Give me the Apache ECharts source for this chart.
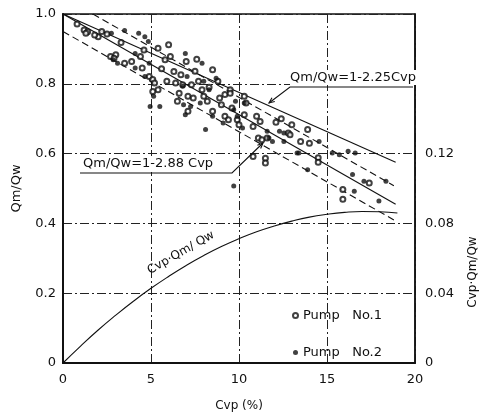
<!DOCTYPE html>
<html>
<head>
<meta charset="utf-8">
<script src="https://cdn.jsdelivr.net/npm/echarts@6/dist/echarts.min.js"></script>
<style>
  html, body { margin: 0; padding: 0; background: #fff; }
  #chart { width: 481px; height: 417px; }
</style>
</head>
<body>
<div id="chart"></div>
<script>
// Volumetric concentration Cvp (%) vs. flow-rate ratio Qm/Qw for two pumps.
const pump1 = [
  [0.8,0.971],[1.2,0.954],[1.4,0.949],[1.3,0.945],[2.0,0.935],[2.5,0.943],[3.3,0.918],[2.7,0.878],
  [3.0,0.883],[2.9,0.873],[3.5,0.859],[3.9,0.864],[4.4,0.878],[4.6,0.897],[4.5,0.845],[4.9,0.821],
  [5.4,0.902],[5.8,0.869],[6.1,0.878],[6.3,0.835],[7.0,0.864],[5.1,0.812],[5.2,0.802],[5.4,0.783],
  [5.1,0.778],[5.9,0.807],[6.4,0.802],[6.8,0.797],[7.3,0.797],[7.7,0.807],[6.6,0.773],[7.1,0.764],
  [7.4,0.759],[8.0,0.764],[8.2,0.750],[6.5,0.750],[8.9,0.759],[9.2,0.769],[9.0,0.740],[8.5,0.721],
  [9.2,0.707],[9.6,0.731],[7.9,0.783],[8.8,0.807],[9.5,0.783],[9.4,0.697],[7.1,0.721],
  [11.0,0.707],[11.2,0.692],[10.8,0.678],[10.3,0.711],[9.9,0.697],[10.0,0.683],[11.1,0.645],[11.3,0.640],
  [11.6,0.645],[10.8,0.592],[11.5,0.587],[11.5,0.573],[13.0,0.683],[13.9,0.669],[12.8,0.659],[12.9,0.654],
  [13.5,0.635],[14.0,0.630],[14.5,0.588],[14.5,0.575],[10.3,0.764],[9.5,0.773],
  [15.9,0.497],[15.9,0.469],[17.4,0.516],
  [5.6,0.843],[6.7,0.826],[7.5,0.836],[8.3,0.790],[10.4,0.745],[12.1,0.690],[12.4,0.700],[6.0,0.912],
  [7.6,0.870],[8.5,0.840],[2.2,0.950],[1.8,0.940]
];
const pump2 = [
  [2.75,0.945],[3.5,0.953],[4.3,0.945],[4.65,0.935],[4.1,0.887],[2.85,0.869],[3.1,0.859],[4.1,0.845],
  [4.65,0.821],[4.85,0.921],
  [6.95,0.887],[7.9,0.859],[4.9,0.859],[7.05,0.821],[8.0,0.807],[8.7,0.816],[6.8,0.793],[8.3,0.783],
  [5.15,0.764],[5.5,0.735],[7.25,0.735],[7.8,0.745],[6.95,0.711],[8.1,0.669],[8.5,0.707],[9.1,0.688],
  [6.85,0.740],[4.95,0.735],
  [9.8,0.750],[10.3,0.745],[9.7,0.726],[10.2,0.673],[12.3,0.664],[12.55,0.659],[11.6,0.664],[12.55,0.635],
  [11.7,0.645],[13.4,0.602],[13.3,0.602],[11.9,0.635],[14.55,0.635],[13.9,0.554],[9.7,0.507],[9.9,0.707],
  [15.3,0.602],[15.7,0.597],[16.2,0.607],[16.6,0.602],[16.45,0.540],[17.1,0.521],[18.35,0.521],[16.55,0.492],
  [17.95,0.464]
];

// Fitted lines and the scatter band round Qm/Qw = 1 - 2.88 Cvp
const fit225 = [[0, 1.0], [18.9, 0.575]];
const fit288 = [[0, 1.0], [18.9, 0.455]];
const band288Upper = [[1.7, 1.0], [18.8, 0.508]];
const band288Lower = [[0, 0.95], [18.8, 0.41]];

// Cvp·Qm/Qw curve (right axis)
const curveCvp = [0, 1, 2, 3, 4, 5, 6, 7, 8, 9, 10, 11, 12, 13, 14, 15, 16, 17, 18, 19];
const curveValue = [0, 0.0097, 0.0189, 0.0274, 0.0354, 0.0428, 0.0496, 0.0559, 0.0616, 0.0667,
  0.0712, 0.0752, 0.0785, 0.0813, 0.0836, 0.0852, 0.0863, 0.0868, 0.0867, 0.0860];

const xTicks = { min: 0, max: 20, step: 5 };
const leftTicks = { min: 0, max: 1, step: 0.2 };
const rightTicks = { min: 0, max: 0.2, step: 0.04, lastLabelled: 0.12 };

const FONT = 'DejaVu Sans';
const INK = '#111';

const chart = echarts.init(document.getElementById('chart'), null, { renderer: 'canvas' });

const lineStyleSolid = { color: INK, width: 1.1, type: 'solid' };
const lineStyleDashed = { color: INK, width: 1.1, type: [7, 4] };

function lineSeries(data, style) {
  return {
    type: 'line', data: data, showSymbol: false, symbol: 'none',
    lineStyle: style, silent: true, z: 2, animation: false
  };
}

const option = {
  animation: false,
  backgroundColor: '#fff',
  textStyle: { fontFamily: FONT, color: INK },
  grid: {
    left: 63, right: 66, top: 14, bottom: 53,
    show: true, borderColor: INK, borderWidth: 1.5, backgroundColor: 'transparent'
  },
  legend: {
    orient: 'vertical', left: 287, top: 304, itemGap: 24,
    itemWidth: 5, itemHeight: 5,
    textStyle: { fontFamily: FONT, fontSize: 13, color: INK },
    formatter: n => n.replace(' ', '   '),
    data: ['Pump No.1', 'Pump No.2']
  },
  xAxis: {
    type: 'value', min: xTicks.min, max: xTicks.max, interval: xTicks.step,
    name: 'Cvp (%)', nameLocation: 'middle', nameGap: 37,
    nameTextStyle: { fontFamily: FONT, fontSize: 12, color: INK },
    axisLine: { show: true, lineStyle: { color: INK, width: 2 } },
    axisTick: { show: false },
    axisLabel: { fontFamily: FONT, fontSize: 13, color: INK, margin: 10 },
    splitLine: { show: true, lineStyle: { color: '#222', width: 1, type: [9, 3, 2, 3] } }
  },
  yAxis: [
    {
      type: 'value', min: leftTicks.min, max: leftTicks.max, interval: leftTicks.step,
      name: 'Qm/Qw', nameLocation: 'middle', nameGap: 40,
      nameTextStyle: { fontFamily: FONT, fontSize: 13, color: INK },
      axisLine: { show: true, lineStyle: { color: INK, width: 2 } },
      axisTick: { show: false },
      axisLabel: {
        fontFamily: FONT, fontSize: 13, color: INK, margin: 7,
        formatter: v => (v === 0 ? '0' : v.toFixed(1))
      },
      splitLine: { show: true, lineStyle: { color: '#222', width: 1, type: [9, 3, 2, 3] } }
    },
    {
      type: 'value', position: 'right', min: rightTicks.min, max: rightTicks.max, interval: rightTicks.step,
      axisLine: { show: true, lineStyle: { color: INK, width: 1.5 } },
      axisTick: { show: false },
      axisLabel: {
        fontFamily: FONT, fontSize: 13, color: INK, margin: 10,
        formatter: v => (v > rightTicks.lastLabelled + 1e-9 ? '' : (v === 0 ? '0' : v.toFixed(2)))
      },
      splitLine: { show: false }
    }
  ],
  series: [
    lineSeries(fit225, lineStyleSolid),
    lineSeries(fit288, lineStyleSolid),
    lineSeries(band288Upper, lineStyleDashed),
    lineSeries(band288Lower, lineStyleDashed),
    {
      type: 'line', yAxisIndex: 1, smooth: true, showSymbol: false, symbol: 'none', silent: true,
      data: curveCvp.map((c, i) => [c, curveValue[i]]),
      lineStyle: { color: INK, width: 1.1 }, z: 2
    },
    {
      name: 'Pump No.1', type: 'scatter', data: pump1,
      symbol: 'emptyCircle', symbolSize: 5,
      itemStyle: { color: INK, borderColor: INK, borderWidth: 1 }, z: 4
    },
    {
      name: 'Pump No.2', type: 'scatter', data: pump2,
      symbol: 'circle', symbolSize: 5,
      itemStyle: { color: INK }, z: 5
    }
  ]
};

chart.setOption(option);

// Annotation labels with leader lines and arrowheads
function arrow(points) {
  const n = points.length;
  const [x1, y1] = points[n - 2];
  const [x2, y2] = points[n - 1];
  const a = Math.atan2(y2 - y1, x2 - x1);
  const len = 6, spread = 0.4;
  return [
    { type: 'polyline', shape: { points: points }, style: { stroke: INK, lineWidth: 1.1, fill: null }, z: 10 },
    {
      type: 'polyline',
      shape: { points: [
        [x2 - len * Math.cos(a - spread), y2 - len * Math.sin(a - spread)],
        [x2, y2],
        [x2 - len * Math.cos(a + spread), y2 - len * Math.sin(a + spread)]
      ] },
      style: { stroke: INK, lineWidth: 1.1, fill: null }, z: 10
    }
  ];
}

const labelFont = { fontFamily: FONT, fontSize: 13, fill: INK };

chart.setOption({
  graphic: [
    { type: 'rect', shape: { x: 290, y: 70, width: 130, height: 15 }, style: { fill: '#fff' }, z: 9 },
    { type: 'text', x: 290, y: 78, z: 11,
      style: Object.assign({ text: 'Qm/Qw=1-2.25Cvp', verticalAlign: 'middle', align: 'left' }, labelFont) },
    ...arrow([[413, 87], [290, 87], [269, 103]]),
    { type: 'rect', shape: { x: 80, y: 156, width: 154, height: 16 }, style: { fill: '#fff' }, z: 9 },
    { type: 'text', x: 83, y: 164, z: 11,
      style: Object.assign({ text: 'Qm/Qw=1-2.88 Cvp', verticalAlign: 'middle', align: 'left' }, labelFont) },
    ...arrow([[80, 173], [232, 173], [263, 143]]),
    { type: 'text', x: 184, y: 258, rotation: Math.PI / 6, z: 11,
      style: Object.assign({ text: 'Cvp·Qm/ Qw', verticalAlign: 'bottom', align: 'center' }, labelFont, { fontSize: 12 }) },
    { type: 'text', x: 473, y: 272, rotation: Math.PI / 2, z: 11,
      style: Object.assign({ text: 'Cvp·Qm/Qw', verticalAlign: 'middle', align: 'center' }, labelFont, { fontSize: 12 }) }
  ]
});
</script>
</body>
</html>
